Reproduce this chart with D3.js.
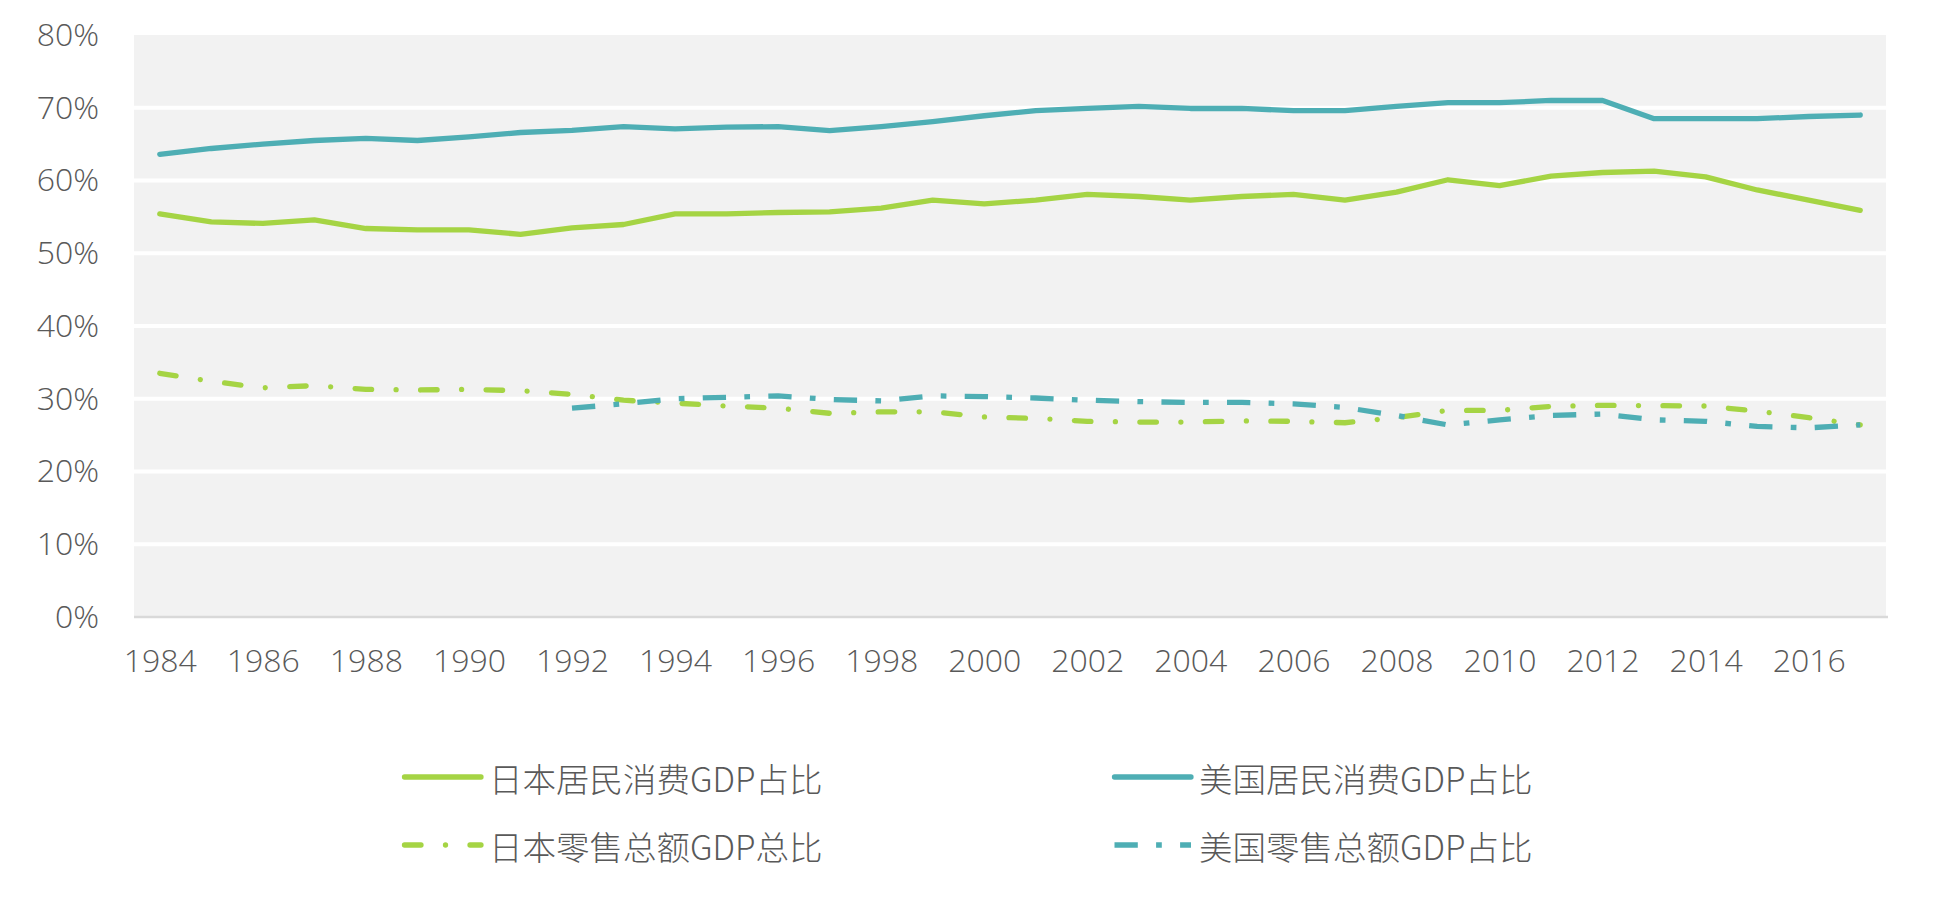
<!DOCTYPE html>
<html>
<head>
<meta charset="utf-8">
<script src="https://cdn.jsdelivr.net/npm/d3@7"></script>
<style>
  html, body { margin: 0; padding: 0; background: #ffffff; }
  svg { display: block; }
</style>
</head>
<body>
<svg id="chart" width="1938" height="906"></svg>
<script>
// ---------------- data ----------------
const years = [1984,1985,1986,1987,1988,1989,1990,1991,1992,1993,1994,1995,1996,1997,1998,1999,2000,
               2001,2002,2003,2004,2005,2006,2007,2008,2009,2010,2011,2012,2013,2014,2015,2016,2017];
const xTickLabels = [1984,1986,1988,1990,1992,1994,1996,1998,2000,2002,2004,2006,2008,2010,2012,2014,2016];
const yTicks = [0,10,20,30,40,50,60,70,80];

const seriesNames = ["日本居民消费GDP占比", "美国居民消费GDP占比", "日本零售总额GDP总比", "美国零售总额GDP占比"];

const jpConsumption = [55.4,54.3,54.1,54.6,53.4,53.2,53.2,52.6,53.5,53.95,55.4,55.4,55.6,55.7,56.2,57.3,56.8,
                       57.3,58.1,57.8,57.3,57.8,58.1,57.3,58.4,60.1,59.3,60.6,61.1,61.3,60.5,58.7,57.3,55.9];
const usConsumption = [63.6,64.4,65.0,65.5,65.8,65.5,66.0,66.6,66.9,67.4,67.1,67.35,67.4,66.85,67.4,68.1,68.9,
                       69.6,69.9,70.2,69.9,69.9,69.6,69.6,70.2,70.7,70.7,71.0,71.0,68.5,68.5,68.5,68.8,69.0];
const jpRetail = [33.5,32.4,31.5,31.8,31.3,31.2,31.3,31.1,30.6,29.8,29.4,29.0,28.7,28.0,28.2,28.2,27.5,
                  27.3,26.9,26.8,26.8,26.95,26.9,26.7,27.4,28.4,28.4,28.95,29.1,29.05,29.0,28.3,27.4,26.4];
const usRetail = [null,null,null,null,null,null,null,null,28.7,29.3,30.0,30.2,30.4,29.9,29.7,30.4,30.3,
                  30.1,29.8,29.6,29.5,29.5,29.3,28.8,27.7,26.4,27.1,27.7,27.9,27.1,26.9,26.2,26.0,26.4];

// ---------------- styles ----------------
const GREEN = "#a5d444";
const TEAL = "#4eaeb4";
const TEXT = "#595959";
const LATIN_FONT = "'Open Sans', 'Noto Sans', sans-serif";
const CJK_FONT = "'Noto Sans CJK SC', 'Noto Sans', sans-serif";

const series = [
  { name: seriesNames[0], values: jpConsumption, color: GREEN, dash: null, cap: "round" },
  { name: seriesNames[1], values: usConsumption, color: TEAL,  dash: null, cap: "round" },
  { name: seriesNames[2], values: jpRetail,      color: GREEN, dash: "16.5 24.5 0.01 24.5", cap: "round" },
  { name: seriesNames[3], values: usRetail,      color: TEAL,  dash: "23.3 18.3 5.7 18.3", cap: "butt" }
];

// ---------------- layout ----------------
const plot = { left: 134, right: 1886, top: 35, bottom: 617 };

const svg = d3.select("#chart");

const x = d3.scalePoint().domain(years).range([plot.left, plot.right]).padding(0.5);
const y = d3.scaleLinear().domain([0, 80]).range([plot.bottom, plot.top]);

// background
svg.append("rect")
  .attr("x", plot.left).attr("y", plot.top)
  .attr("width", plot.right - plot.left).attr("height", plot.bottom - plot.top)
  .attr("fill", "#f2f2f2");

// gridlines
svg.append("g").selectAll("line")
  .data(yTicks.filter(d => d > 0 && d < 80))
  .join("line")
  .attr("x1", plot.left).attr("x2", plot.right)
  .attr("y1", d => y(d)).attr("y2", d => y(d))
  .attr("stroke", "#ffffff").attr("stroke-width", 4);

// x axis baseline
svg.append("line")
  .attr("x1", plot.left).attr("x2", plot.right + 2)
  .attr("y1", y(0)).attr("y2", y(0))
  .attr("stroke", "#d9d9d9").attr("stroke-width", 2.5);

// y axis
const yAxis = svg.append("g")
  .attr("transform", `translate(${plot.left},0)`)
  .call(d3.axisLeft(y).tickValues(yTicks).tickSize(0).tickPadding(35).tickFormat(d => d + "%"));
yAxis.select(".domain").remove();
yAxis.selectAll("text")
  .attr("fill", TEXT)
  .style("font-family", LATIN_FONT)
  .style("font-weight", 300)
  .style("font-size", "32px");

// x axis
const xAxis = svg.append("g")
  .attr("transform", `translate(0,${plot.bottom})`)
  .call(d3.axisBottom(x).tickValues(xTickLabels).tickSize(0).tickPadding(32).tickFormat(d => String(d)));
xAxis.select(".domain").remove();
xAxis.selectAll("text")
  .attr("fill", TEXT)
  .style("font-family", LATIN_FONT)
  .style("font-weight", 300)
  .style("font-size", "32px");

// lines
const lineGen = d3.line()
  .defined(d => d.v != null)
  .x(d => x(d.year))
  .y(d => y(d.v));

svg.append("g").selectAll("path")
  .data(series)
  .join("path")
  .attr("d", s => lineGen(years.map((yr, i) => ({ year: yr, v: s.values[i] }))))
  .attr("fill", "none")
  .attr("stroke", s => s.color)
  .attr("stroke-width", 5.3)
  .attr("stroke-linejoin", "round")
  .attr("stroke-linecap", s => s.cap)
  .attr("stroke-dasharray", s => s.dash);

// legend
const legendPos = [
  { lx: 402, ty: 777 },
  { lx: 1112, ty: 777 },
  { lx: 402, ty: 845 },
  { lx: 1112, ty: 845 }
];
const legend = svg.append("g").selectAll("g")
  .data(series)
  .join("g")
  .attr("transform", (s, i) => `translate(${legendPos[i].lx},${legendPos[i].ty})`);

legend.append("line")
  .attr("x1", 2.5).attr("x2", 79)
  .attr("y1", 0).attr("y2", 0)
  .attr("stroke", s => s.color)
  .attr("stroke-width", 5.3)
  .attr("stroke-linecap", s => s.cap)
  .attr("stroke-dasharray", s => s.dash);

legend.append("text")
  .attr("x", 87)
  .attr("y", 0)
  .attr("dominant-baseline", "central")
  .attr("fill", TEXT)
  .style("font-family", CJK_FONT)
  .style("font-weight", 300)
  .style("font-size", "33.5px")
  .text(s => s.name);
</script>
</body>
</html>
